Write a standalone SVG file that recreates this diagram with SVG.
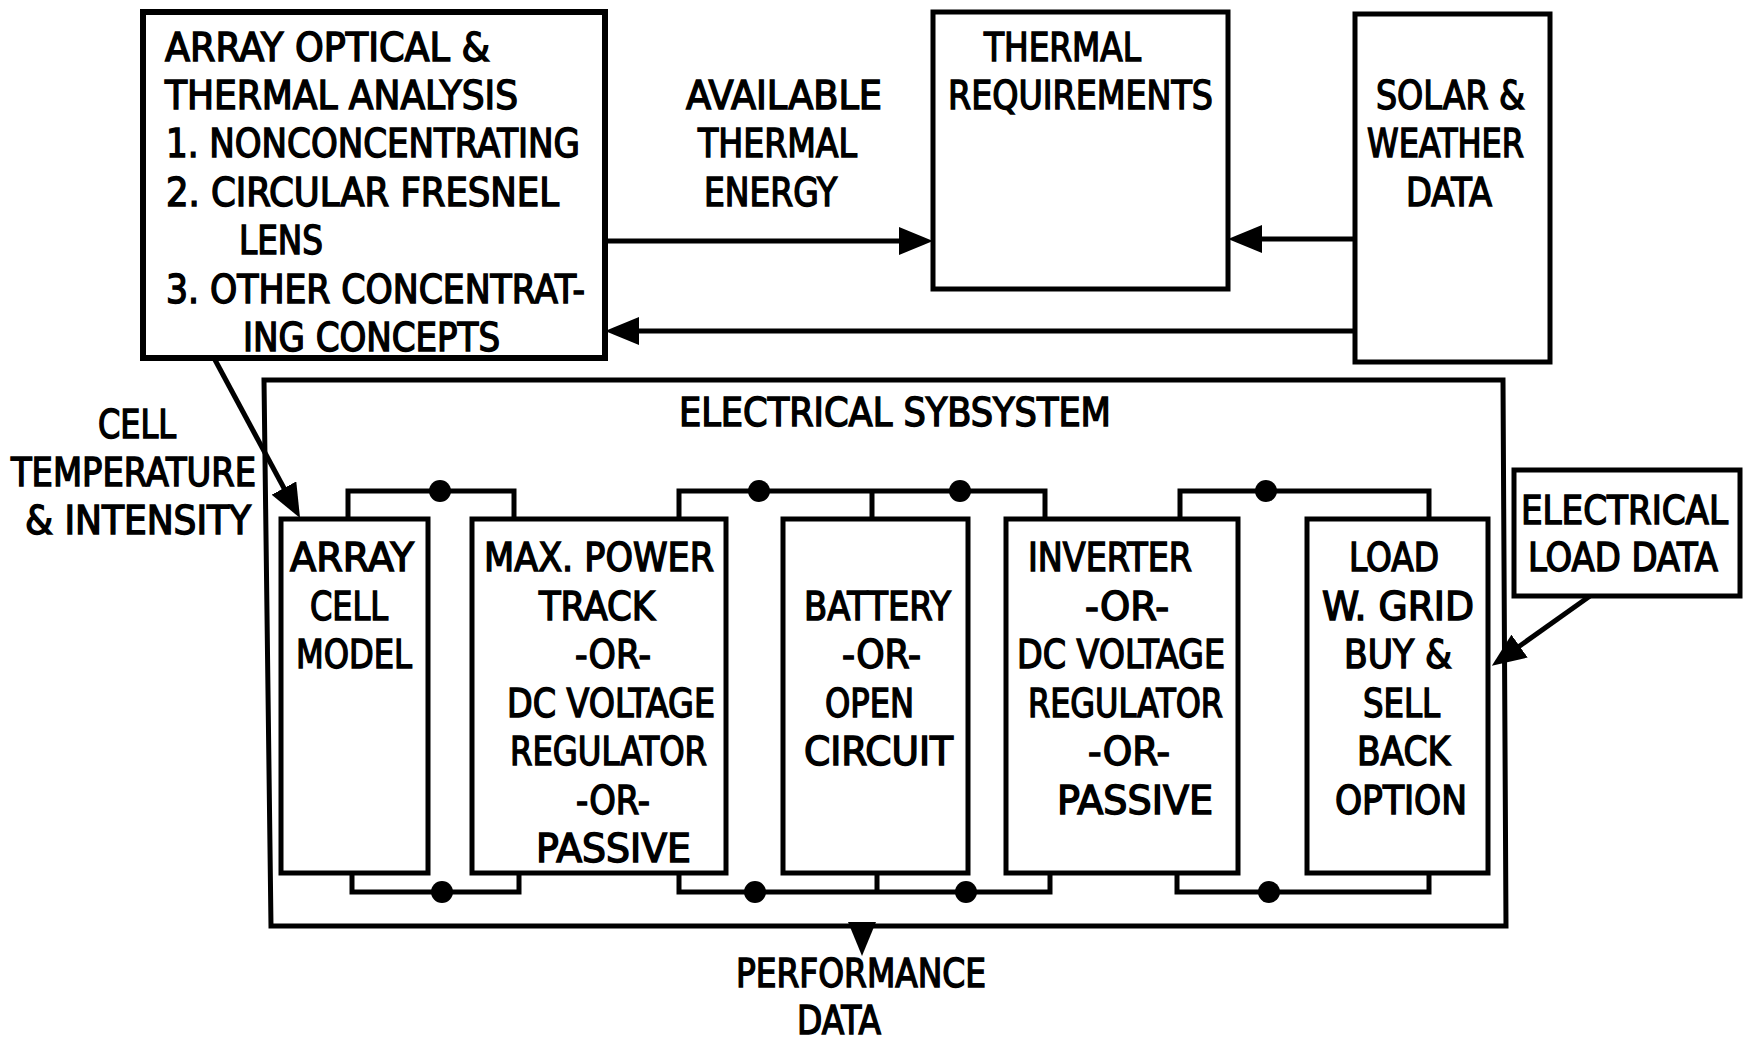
<svg xmlns="http://www.w3.org/2000/svg" width="1746" height="1046" viewBox="0 0 1746 1046">
<style>
.t{font-family:"DejaVu Sans Condensed","DejaVu Sans",sans-serif;font-size:39px;fill:#000;stroke:#000;stroke-width:1.4px}
.box{fill:#fff;stroke:#000;stroke-width:5}
.ln{fill:none;stroke:#000;stroke-width:5}
.bus{fill:none;stroke:#000;stroke-width:5}
.dot{fill:#000}
</style>
<defs>
<marker id="ah" viewBox="0 0 34 28" refX="24" refY="14" markerWidth="34" markerHeight="28" orient="auto" markerUnits="userSpaceOnUse">
<path d="M0,0 L34,14 L0,28 Z" fill="#000"/>
</marker>
</defs>
<rect width="1746" height="1046" fill="#fff"/>

<g id="electrical-subsystem">
<path class="box" d="M264,380 H1503 L1506,926 H271 Z"/>
<text class="t" x="679" y="426" textLength="432" lengthAdjust="spacingAndGlyphs">ELECTRICAL SYBSYSTEM</text>
</g>

<g id="array-optical">
<rect class="box" x="143" y="12" width="462" height="346" style="stroke-width:6"/>
<text class="t" x="165" y="61" textLength="325" lengthAdjust="spacingAndGlyphs">ARRAY OPTICAL &amp;</text>
<text class="t" x="165" y="109" textLength="353" lengthAdjust="spacingAndGlyphs">THERMAL ANALYSIS</text>
<text class="t" x="166" y="157" textLength="414" lengthAdjust="spacingAndGlyphs">1. NONCONCENTRATING</text>
<text class="t" x="166" y="206" textLength="393" lengthAdjust="spacingAndGlyphs">2. CIRCULAR FRESNEL</text>
<text class="t" x="239" y="254" textLength="84" lengthAdjust="spacingAndGlyphs">LENS</text>
<text class="t" x="166" y="303" textLength="419" lengthAdjust="spacingAndGlyphs">3. OTHER CONCENTRAT-</text>
<text class="t" x="243" y="351" textLength="257" lengthAdjust="spacingAndGlyphs">ING CONCEPTS</text>
</g>

<g id="available-thermal-energy">
<text class="t" x="686" y="109" textLength="196" lengthAdjust="spacingAndGlyphs">AVAILABLE</text>
<text class="t" x="698" y="157" textLength="159" lengthAdjust="spacingAndGlyphs">THERMAL</text>
<text class="t" x="704" y="206" textLength="133" lengthAdjust="spacingAndGlyphs">ENERGY</text>
</g>

<g id="thermal-requirements">
<rect class="box" x="933" y="12" width="295" height="277"/>
<text class="t" x="984" y="61" textLength="157" lengthAdjust="spacingAndGlyphs">THERMAL</text>
<text class="t" x="948" y="109" textLength="265" lengthAdjust="spacingAndGlyphs">REQUIREMENTS</text>
</g>

<g id="solar-weather">
<rect class="box" x="1355" y="14" width="195" height="348"/>
<text class="t" x="1376" y="109" textLength="149" lengthAdjust="spacingAndGlyphs">SOLAR &amp;</text>
<text class="t" x="1367" y="157" textLength="157" lengthAdjust="spacingAndGlyphs">WEATHER</text>
<text class="t" x="1406" y="206" textLength="86" lengthAdjust="spacingAndGlyphs">DATA</text>
</g>

<g id="cell-temperature-label">
<text class="t" x="98" y="438" textLength="78" lengthAdjust="spacingAndGlyphs">CELL</text>
<text class="t" x="11" y="486" textLength="245" lengthAdjust="spacingAndGlyphs">TEMPERATURE</text>
<text class="t" x="25" y="534" textLength="226" lengthAdjust="spacingAndGlyphs">&amp; INTENSITY</text>
</g>

<g id="connectors">
<path class="ln" d="M605,241 H923" marker-end="url(#ah)"/>
<path class="ln" d="M1355,239 H1238" marker-end="url(#ah)"/>
<path class="ln" d="M1355,331 H615" marker-end="url(#ah)"/>
<path class="ln" d="M214,358 L295.3,509.2" marker-end="url(#ah)"/>
<path class="ln" d="M1590,596 L1500,660" marker-end="url(#ah)"/>
<path class="ln" d="M862,926 V946" marker-end="url(#ah)"/>
<path class="bus" d="M348,519 V491 H514 V519"/>
<path class="bus" d="M679,519 V491 H1045 V519 M872,491 V519"/>
<path class="bus" d="M1180,519 V491 H1429 V519"/>
<path class="bus" d="M352,873 V892 H519 V873"/>
<path class="bus" d="M679,873 V892 H1050 V873 M877,892 V873"/>
<path class="bus" d="M1177,873 V892 H1429 V873"/>
<circle class="dot" cx="440" cy="491" r="11"/>
<circle class="dot" cx="759" cy="491" r="11"/>
<circle class="dot" cx="960" cy="491" r="11"/>
<circle class="dot" cx="1266" cy="491" r="11"/>
<circle class="dot" cx="442" cy="892" r="11"/>
<circle class="dot" cx="755" cy="892" r="11"/>
<circle class="dot" cx="966" cy="892" r="11"/>
<circle class="dot" cx="1269" cy="892" r="11"/>
</g>

<g id="array-cell-model">
<rect class="box" x="281" y="519" width="147" height="354"/>
<text class="t" x="290" y="571" textLength="124" lengthAdjust="spacingAndGlyphs">ARRAY</text>
<text class="t" x="310" y="620" textLength="78" lengthAdjust="spacingAndGlyphs">CELL</text>
<text class="t" x="296" y="668" textLength="116" lengthAdjust="spacingAndGlyphs">MODEL</text>
</g>

<g id="max-power-track">
<rect class="box" x="472" y="519" width="254" height="354"/>
<text class="t" x="484" y="571" textLength="230" lengthAdjust="spacingAndGlyphs">MAX. POWER</text>
<text class="t" x="539" y="620" textLength="116" lengthAdjust="spacingAndGlyphs">TRACK</text>
<text class="t" x="575" y="668" textLength="76" lengthAdjust="spacingAndGlyphs">-OR-</text>
<text class="t" x="507" y="717" textLength="208" lengthAdjust="spacingAndGlyphs">DC VOLTAGE</text>
<text class="t" x="510" y="765" textLength="197" lengthAdjust="spacingAndGlyphs">REGULATOR</text>
<text class="t" x="576" y="814" textLength="74" lengthAdjust="spacingAndGlyphs">-OR-</text>
<text class="t" x="536" y="862" textLength="155" lengthAdjust="spacingAndGlyphs">PASSIVE</text>
</g>

<g id="battery">
<rect class="box" x="783" y="519" width="185" height="354"/>
<text class="t" x="804" y="620" textLength="147" lengthAdjust="spacingAndGlyphs">BATTERY</text>
<text class="t" x="842" y="668" textLength="79" lengthAdjust="spacingAndGlyphs">-OR-</text>
<text class="t" x="825" y="717" textLength="89" lengthAdjust="spacingAndGlyphs">OPEN</text>
<text class="t" x="804" y="765" textLength="149" lengthAdjust="spacingAndGlyphs">CIRCUIT</text>
</g>

<g id="inverter">
<rect class="box" x="1006" y="519" width="232" height="354"/>
<text class="t" x="1028" y="571" textLength="164" lengthAdjust="spacingAndGlyphs">INVERTER</text>
<text class="t" x="1085" y="620" textLength="84" lengthAdjust="spacingAndGlyphs">-OR-</text>
<text class="t" x="1017" y="668" textLength="208" lengthAdjust="spacingAndGlyphs">DC VOLTAGE</text>
<text class="t" x="1028" y="717" textLength="195" lengthAdjust="spacingAndGlyphs">REGULATOR</text>
<text class="t" x="1088" y="765" textLength="82" lengthAdjust="spacingAndGlyphs">-OR-</text>
<text class="t" x="1057" y="814" textLength="156" lengthAdjust="spacingAndGlyphs">PASSIVE</text>
</g>

<g id="load">
<rect class="box" x="1307" y="519" width="181" height="354"/>
<text class="t" x="1349" y="571" textLength="90" lengthAdjust="spacingAndGlyphs">LOAD</text>
<text class="t" x="1322" y="620" textLength="152" lengthAdjust="spacingAndGlyphs">W. GRID</text>
<text class="t" x="1344" y="668" textLength="108" lengthAdjust="spacingAndGlyphs">BUY &amp;</text>
<text class="t" x="1363" y="717" textLength="77" lengthAdjust="spacingAndGlyphs">SELL</text>
<text class="t" x="1357" y="765" textLength="93" lengthAdjust="spacingAndGlyphs">BACK</text>
<text class="t" x="1335" y="814" textLength="132" lengthAdjust="spacingAndGlyphs">OPTION</text>
</g>

<g id="electrical-load-data">
<rect class="box" x="1514" y="470" width="226" height="126"/>
<text class="t" x="1521" y="524" textLength="207" lengthAdjust="spacingAndGlyphs">ELECTRICAL</text>
<text class="t" x="1528" y="571" textLength="190" lengthAdjust="spacingAndGlyphs">LOAD DATA</text>
</g>

<g id="performance-data">
<text class="t" x="736" y="987" textLength="250" lengthAdjust="spacingAndGlyphs">PERFORMANCE</text>
<text class="t" x="797" y="1034" textLength="84" lengthAdjust="spacingAndGlyphs">DATA</text>
</g>
</svg>
